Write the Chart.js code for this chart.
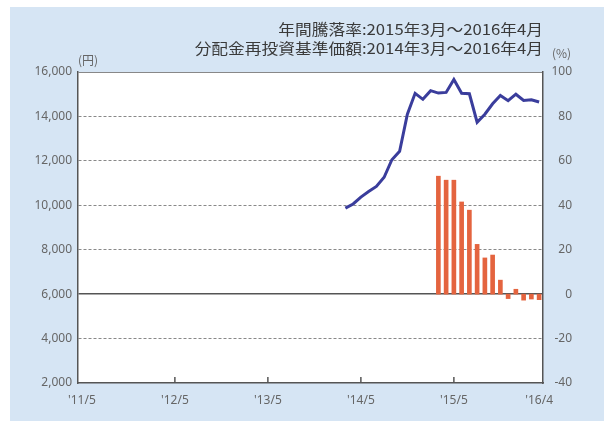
<!DOCTYPE html>
<html>
<head>
<meta charset="utf-8">
<script src="https://cdn.jsdelivr.net/npm/chart.js@4"></script>
<style>
  html, body { margin: 0; padding: 0; background: #fff; }
  #wrap { width: 604px; height: 421px; position: relative; }
</style>
</head>
<body>
<div id="wrap"><canvas id="navChart" width="604" height="421"></canvas></div>
<script>
// 月次の横軸ラベル ('11/5 〜 '16/4)
const months = [
  "'11/5", "'11/6", "'11/7", "'11/8", "'11/9", "'11/10", "'11/11", "'11/12",
  "'12/1", "'12/2", "'12/3", "'12/4", "'12/5", "'12/6", "'12/7", "'12/8", "'12/9", "'12/10", "'12/11", "'12/12",
  "'13/1", "'13/2", "'13/3", "'13/4", "'13/5", "'13/6", "'13/7", "'13/8", "'13/9", "'13/10", "'13/11", "'13/12",
  "'14/1", "'14/2", "'14/3", "'14/4", "'14/5", "'14/6", "'14/7", "'14/8", "'14/9", "'14/10", "'14/11", "'14/12",
  "'15/1", "'15/2", "'15/3", "'15/4", "'15/5", "'15/6", "'15/7", "'15/8", "'15/9", "'15/10", "'15/11", "'15/12",
  "'16/1", "'16/2", "'16/3", "'16/4"
];
const shownMonths = ["'11/5", "'12/5", "'13/5", "'14/5", "'15/5", "'16/4"];

// 分配金再投資基準価額 (円) 2014/3 〜 2016/4
const navStart = "'14/3";
const navValues = [
  9870, 10060, 10370, 10620, 10850, 11260, 12050, 12430, 14100, 15040,
  14770, 15160, 15050, 15080, 15660, 15040, 15020, 13740, 14100, 14570,
  14940, 14710, 15000, 14720, 14750, 14650
];

// 年間騰落率 (%) 2015/3 〜 2016/4
const returnStart = "'15/3";
const returnValues = [53.1, 51.3, 51.3, 41.5, 37.8, 22.4, 16.3, 17.6, 6.3, -2.0, 2.2, -2.7, -2.2, -2.5];

const yenTicks = [2000, 4000, 6000, 8000, 10000, 12000, 14000, 16000];
const pctTicks = [-40, -20, 0, 20, 40, 60, 80, 100];

function padSeries(start, values) {
  const offset = months.indexOf(start);
  return months.map((m, i) => (i >= offset && i - offset < values.length) ? values[i - offset] : null);
}

const tickFont = { family: "'Noto Sans', sans-serif", size: 12 };

const decor = {
  id: 'decor',
  beforeDraw(chart) {
    const { ctx, chartArea: a } = chart;
    ctx.save();
    ctx.fillStyle = '#ffffff';
    ctx.fillRect(0, 0, chart.width, chart.height);
    ctx.fillStyle = '#d6e5f4';
    ctx.fillRect(10, 7, chart.width - 10, chart.height - 7);
    ctx.fillStyle = '#ffffff';
    ctx.fillRect(a.left, a.top, a.right - a.left, a.bottom - a.top);
    ctx.restore();
  },
  afterDraw(chart) {
    const { ctx, chartArea: a, scales } = chart;
    ctx.save();
    // 横軸の内向き目盛り
    ctx.strokeStyle = '#555';
    ctx.lineWidth = 1.5;
    shownMonths.slice(1, -1).forEach(m => {
      const x = scales.x.getPixelForValue(months.indexOf(m));
      ctx.beginPath();
      ctx.moveTo(x, a.bottom);
      ctx.lineTo(x, a.bottom - 6);
      ctx.stroke();
    });
    // 見出し (横長の書体に合わせて少し横に伸ばす)
    ctx.fillStyle = '#3a3a3a';
    ctx.textBaseline = 'middle';
    ctx.textAlign = 'right';
    ctx.font = "15px 'Noto Sans CJK JP', sans-serif";
    [['年間騰落率:2015年3月～2016年4月', 29], ['分配金再投資基準価額:2014年3月～2016年4月', 48]].forEach(([t, y]) => {
      ctx.save();
      ctx.translate(a.right, y);
      ctx.scale(1.115, 1);
      ctx.fillText(t, 0, 0);
      ctx.restore();
    });
    // 単位
    ctx.fillStyle = '#666';
    ctx.font = "12px 'Noto Sans CJK JP', sans-serif";
    ctx.textAlign = 'left';
    ctx.fillText('(円)', a.left, 60);
    ctx.fillText('(%)', 552, 53);
    ctx.restore();
  }
};

const ctx = document.getElementById('navChart').getContext('2d');
new Chart(ctx, {
  data: {
    labels: months,
    datasets: [{
      type: 'line',
      label: '分配金再投資基準価額',
      data: padSeries(navStart, navValues),
      yAxisID: 'y',
      borderColor: '#3a3d9c',
      borderWidth: 3,
      pointRadius: 0,
      tension: 0,
      spanGaps: false,
      order: 1
    }, {
      type: 'bar',
      label: '年間騰落率',
      data: padSeries(returnStart, returnValues),
      yAxisID: 'y1',
      backgroundColor: '#e4643f',
      barThickness: 4,
      order: 2
    }]
  },
  options: {
    responsive: false,
    animation: false,
    layout: { padding: { top: 72, right: 32 } },
    plugins: {
      legend: { display: false },
      tooltip: { enabled: false }
    },
    scales: {
      x: {
        type: 'category',
        offset: true,
        grid: { display: false, drawTicks: false },
        border: { color: '#555', width: 1.5 },
        afterFit: s => { s.height = 38; },
        ticks: {
          autoSkip: false,
          maxRotation: 0,
          padding: 10,
          color: '#666',
          font: tickFont,
          callback: function(value, index) {
            return shownMonths.includes(months[index]) ? months[index] : '';
          }
        }
      },
      y: {
        position: 'left',
        min: 2000,
        max: 16000,
        afterFit: s => { s.width = 78; },
        afterBuildTicks: s => { s.ticks = yenTicks.map(v => ({ value: v })); },
        grid: {
          drawTicks: false,
          lineWidth: c => (c.tick && c.tick.value === 6000) ? 1.5 : 1,
          color: c => {
            if (!c.tick) return '#888';
            if (c.tick.value === 2000) return 'rgba(0,0,0,0)';
            if (c.tick.value === 6000) return '#555';
            return '#888';
          }
        },
        border: {
          color: '#555',
          width: 1.5,
          dash: c => (!c.tick || c.tick.value === 6000 || c.tick.value === 16000) ? [] : [3, 2]
        },
        ticks: {
          padding: 6,
          color: '#666',
          font: tickFont,
          callback: v => v.toLocaleString('en-US')
        }
      },
      y1: {
        position: 'right',
        min: -40,
        max: 100,
        afterFit: s => { s.width = 29; },
        afterBuildTicks: s => { s.ticks = pctTicks.map(v => ({ value: v })); },
        grid: { display: false, drawTicks: false },
        border: { color: '#555', width: 1.5 },
        ticks: {
          padding: 9,
          crossAlign: 'far',
          color: '#666',
          font: tickFont
        }
      }
    }
  },
  plugins: [decor]
});
</script>
</body>
</html>
